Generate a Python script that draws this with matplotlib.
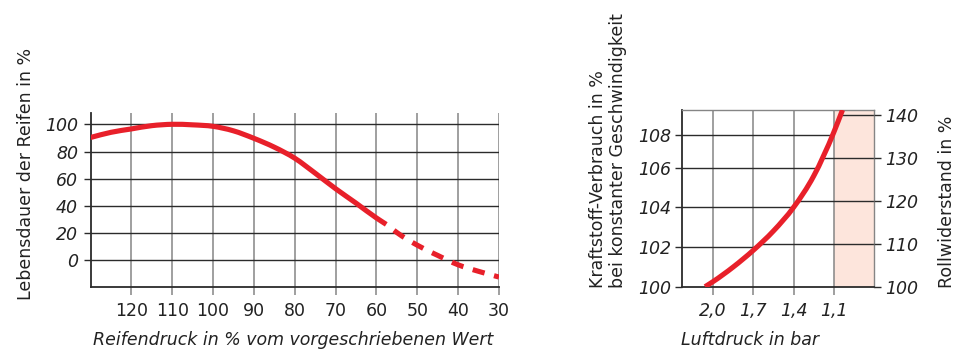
import matplotlib
matplotlib.use("Agg")
import matplotlib.pyplot as plt
from matplotlib.path import Path
from matplotlib.patches import PathPatch
import numpy as np

plt.rcParams['font.family'] = ['DejaVu Sans']

# ---------------- data: left chart ----------------
pressure_pct_solid = [130, 125, 120, 115, 110, 105, 100, 95, 90, 85, 80, 75, 70, 65, 60, 57.6]
life_solid = [90.3, 94.1, 96.6, 99.0, 100.0, 99.6, 98.5, 95.2, 89.7, 83.2, 75.1, 64.1, 52.7, 42.1, 31.2, 26.5]
pressure_pct_dashed = [57.6, 55, 50, 45, 40, 35, 30]
life_dashed = [26.5, 20.5, 11.2, 3.7, -3.2, -8.0, -12.2]
left_xticks = [120, 110, 100, 90, 80, 70, 60, 50, 40, 30]
left_yticks = [0, 20, 40, 60, 80, 100]

# ---------------- data: right chart ----------------
air_pressure = [2.06, 2.0, 1.85, 1.7, 1.55, 1.4, 1.25, 1.1, 1.035]
rolling_res = [100, 101.2, 104.6, 108.5, 113.0, 118.5, 125.8, 136.0, 141.2]
air_ticks = [2.0, 1.7, 1.4, 1.1]
air_tick_labels = ['2,0', '1,7', '1,4', '1,1']
fuel_ticks = [100, 102, 104, 106, 108]
fuel_as_rolling_res = [100, 109.2, 118.5, 127.7, 135.3]
rr_ticks = [100, 110, 120, 130, 140]
critical_from = 1.1

RED = '#e8202a'
DARK = '#2b2b2b'
GRAY = '#858585'
SHADE = '#fde5dc'
TXT = '#222222'
FS = 12.5


def smooth_path(xs, ys):
    """Smooth cubic-Hermite (Bezier) path through data points; x must be monotonic."""
    x = np.asarray(xs, float)
    y = np.asarray(ys, float)
    n = len(x)
    h = np.diff(x)
    d = np.diff(y) / h
    m = np.empty(n)
    m[0] = d[0]
    m[-1] = d[-1]
    for i in range(1, n - 1):
        m[i] = (d[i - 1] * h[i] + d[i] * h[i - 1]) / (h[i - 1] + h[i])
    verts = [(x[0], y[0])]
    codes = [Path.MOVETO]
    for i in range(n - 1):
        verts += [(x[i] + h[i] / 3, y[i] + m[i] * h[i] / 3),
                  (x[i + 1] - h[i] / 3, y[i + 1] - m[i + 1] * h[i] / 3),
                  (x[i + 1], y[i + 1])]
        codes += [Path.CURVE4] * 3
    return Path(verts, codes)


fig = plt.figure(figsize=(9.72, 3.55), dpi=100)

# ================= left chart =================
ax = fig.add_axes([90.5/972, 68/355, 408.5/972, 174/355])
ax.set_xlim(130, 30)
ax.set_ylim(-19.5, 108.3)
for s in ['top', 'right']:
    ax.spines[s].set_visible(False)
for s in ['left', 'bottom']:
    ax.spines[s].set_color(DARK)
    ax.spines[s].set_linewidth(1.3)
for xv in left_xticks:
    ax.axvline(xv, color=GRAY, lw=1.1, zorder=1)
for yv in left_yticks:
    ax.axhline(yv, color=DARK, lw=1.0, zorder=1)
ax.set_xticks(left_xticks)
ax.set_xticklabels([str(v) for v in left_xticks])
ax.set_yticks(left_yticks)
ax.set_yticklabels([str(v) for v in left_yticks], fontstyle='italic')
ax.tick_params(axis='x', length=6, width=1.1, color=GRAY, pad=5, labelsize=FS, labelcolor=TXT)
ax.tick_params(axis='y', length=5, width=1.0, color=DARK, pad=4, labelsize=FS, labelcolor=TXT)
ax.add_patch(PathPatch(smooth_path(pressure_pct_solid, life_solid), fill=False, edgecolor=RED,
                       lw=3.7, capstyle='butt', zorder=3))
ax.add_patch(PathPatch(smooth_path(pressure_pct_dashed, life_dashed), fill=False, edgecolor=RED,
                       lw=3.7, capstyle='butt', linestyle=(2.4, (2.4, 1.9)), zorder=3))

fig.text(26/972, 55/355, 'Lebensdauer der Reifen in %', rotation=90, rotation_mode='anchor',
         ha='left', va='center', fontsize=FS, color=TXT)
fig.text(293/972, 15/355, 'Reifendruck in % vom vorgeschriebenen Wert', ha='center', va='center',
         fontsize=FS, fontstyle='italic', color=TXT)

# ================= right chart =================
bx = fig.add_axes([682.3/972, 68.3/355, 191.7/972, 176.7/355])
bx.set_xlim(2.23, 0.80)
bx.set_ylim(100, 141.2)
bx.axvspan(critical_from, 0.80, color=SHADE, zorder=0, lw=0)
bx.spines['left'].set_color(DARK)
bx.spines['left'].set_linewidth(1.3)
bx.spines['bottom'].set_color(DARK)
bx.spines['bottom'].set_linewidth(1.3)
for s in ['top', 'right']:
    bx.spines[s].set_color(GRAY)
    bx.spines[s].set_linewidth(1.0)
for xv in air_ticks:
    bx.axvline(xv, color=GRAY, lw=1.1, zorder=1)
xmin = bx.get_xlim()[0]
xmax = bx.get_xlim()[1]
# reading lines: fuel gridlines from left axis to curve, rolling resistance lines from curve to right axis
for yv in fuel_as_rolling_res[1:]:
    xc = np.interp(yv, rolling_res, air_pressure)
    bx.plot([xmin, xc], [yv, yv], color=DARK, lw=1.0, zorder=1)
for yv in rr_ticks[1:]:
    xc = np.interp(yv, rolling_res, air_pressure)
    bx.plot([xc, xmax], [yv, yv], color=DARK, lw=1.0, zorder=1)
bx.add_patch(PathPatch(smooth_path(air_pressure, rolling_res), fill=False, edgecolor=RED,
                       lw=3.7, capstyle='butt', zorder=3))

bx.set_xticks(air_ticks)
bx.set_xticklabels(air_tick_labels, fontstyle='italic')
bx.set_yticks(fuel_as_rolling_res)
bx.set_yticklabels([str(v) for v in fuel_ticks], fontstyle='italic')
bx.tick_params(axis='x', length=6, width=1.1, color=GRAY, pad=5, labelsize=FS, labelcolor=TXT)
bx.tick_params(axis='y', length=5, width=1.0, color=DARK, pad=3, labelsize=FS, labelcolor=TXT)

rx = bx.twinx()
rx.set_ylim(bx.get_ylim())
for s in rx.spines.values():
    s.set_visible(False)
rx.set_yticks(rr_ticks)
rx.set_yticklabels([str(v) for v in rr_ticks], fontstyle='italic')
rx.tick_params(axis='y', length=5, width=1.0, color=DARK, pad=3, labelsize=FS, labelcolor=TXT)

fig.text(598/972, 67/355, 'Kraftstoff-Verbrauch in %', rotation=90, rotation_mode='anchor',
         ha='left', va='center', fontsize=FS, color=TXT)
fig.text(618/972, 67/355, 'bei konstanter Geschwindigkeit', rotation=90, rotation_mode='anchor',
         ha='left', va='center', fontsize=FS, color=TXT)
fig.text(947/972, 67/355, 'Rollwiderstand in %', rotation=90, rotation_mode='anchor',
         ha='left', va='center', fontsize=FS, color=TXT)
fig.text(750/972, 15/355, 'Luftdruck in bar', ha='center', va='center',
         fontsize=FS, fontstyle='italic', color=TXT)

fig.savefig('out.png', dpi=100)
